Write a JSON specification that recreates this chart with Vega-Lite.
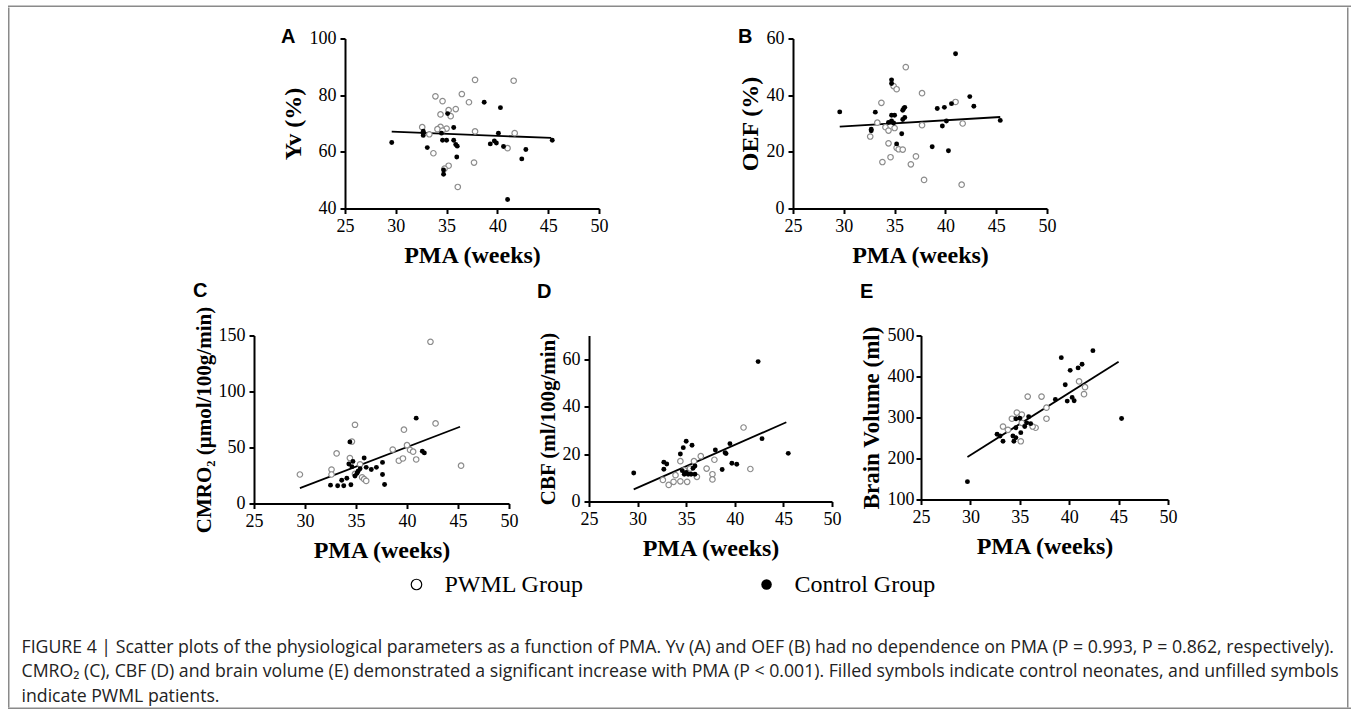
{
  "$schema": "https://vega.github.io/schema/vega-lite/v6.json",
  "background": "white",
  "padding": {"left": 8, "top": 5.5, "right": 4, "bottom": 0},
  "config": {
    "view": {"stroke": null},
    "axis": {
      "domainColor": "black", "domainWidth": 2, "tickColor": "black", "tickWidth": 2, "tickSize": 5,
      "labelFont": "Liberation Serif", "labelFontSize": 18, "labelColor": "black", "labelPadding": 4,
      "titleFont": "Liberation Serif", "titleFontSize": 24, "titleFontWeight": "bold", "titleColor": "black", "titlePadding": 4,
      "grid": false
    },
    "axisX": {"labelFlush": false, "titlePadding": 8},
    "title": {"font": "Liberation Sans", "fontSize": 20, "fontWeight": "bold", "anchor": "start", "color": "black"}
  },
  "datasets": {
    "A": [
      {"pma":37.8,"v":85.4,"g":"PWML"},{"pma":41.6,"v":85.1,"g":"PWML"},{"pma":33.9,"v":79.6,"g":"PWML"},{"pma":34.6,"v":77.9,"g":"PWML"},{"pma":36.5,"v":80.4,"g":"PWML"},{"pma":37.2,"v":77.5,"g":"PWML"},{"pma":35.9,"v":75.1,"g":"PWML"},{"pma":35.2,"v":74.7,"g":"PWML"},{"pma":34.4,"v":73.2,"g":"PWML"},{"pma":35.4,"v":72.6,"g":"PWML"},{"pma":32.6,"v":68.7,"g":"PWML"},{"pma":34.4,"v":68.8,"g":"PWML"},{"pma":34.1,"v":68.0,"g":"PWML"},{"pma":35.0,"v":68.2,"g":"PWML"},{"pma":34.6,"v":67.5,"g":"PWML"},{"pma":33.3,"v":66.2,"g":"PWML"},{"pma":37.8,"v":67.2,"g":"PWML"},{"pma":41.7,"v":66.6,"g":"PWML"},{"pma":41.0,"v":61.3,"g":"PWML"},{"pma":33.7,"v":59.5,"g":"PWML"},{"pma":37.7,"v":56.2,"g":"PWML"},{"pma":35.2,"v":55.1,"g":"PWML"},{"pma":34.8,"v":54.1,"g":"PWML"},{"pma":36.1,"v":47.6,"g":"PWML"},
      {"pma":29.6,"v":63.3,"g":"Control"},{"pma":32.7,"v":67.3,"g":"Control"},{"pma":32.7,"v":66.6,"g":"Control"},{"pma":32.7,"v":65.8,"g":"Control"},{"pma":35.1,"v":73.5,"g":"Control"},{"pma":35.7,"v":68.6,"g":"Control"},{"pma":34.5,"v":66.6,"g":"Control"},{"pma":34.6,"v":64.1,"g":"Control"},{"pma":35.0,"v":64.1,"g":"Control"},{"pma":35.7,"v":64.1,"g":"Control"},{"pma":35.9,"v":62.6,"g":"Control"},{"pma":36.05,"v":62.0,"g":"Control"},{"pma":33.1,"v":61.5,"g":"Control"},{"pma":36.0,"v":58.2,"g":"Control"},{"pma":34.7,"v":53.6,"g":"Control"},{"pma":34.7,"v":52.1,"g":"Control"},{"pma":38.7,"v":77.5,"g":"Control"},{"pma":40.3,"v":75.6,"g":"Control"},{"pma":40.1,"v":66.6,"g":"Control"},{"pma":39.3,"v":62.8,"g":"Control"},{"pma":39.7,"v":63.8,"g":"Control"},{"pma":39.9,"v":63.1,"g":"Control"},{"pma":40.6,"v":61.9,"g":"Control"},{"pma":42.8,"v":60.8,"g":"Control"},{"pma":42.4,"v":57.5,"g":"Control"},{"pma":45.4,"v":64.1,"g":"Control"},{"pma":41.0,"v":43.2,"g":"Control"}
    ],
    "A_fit": [{"pma":29.6,"v":67.1},{"pma":45.3,"v":64.9}],
    "B": [
      {"pma":29.6,"v":34.1,"g":"Control"},{"pma":33.1,"v":34.0,"g":"Control"},{"pma":32.7,"v":28.0,"g":"Control"},{"pma":32.7,"v":27.4,"g":"Control"},{"pma":34.7,"v":45.4,"g":"Control"},{"pma":34.7,"v":44.1,"g":"Control"},{"pma":34.7,"v":32.9,"g":"Control"},{"pma":35.0,"v":32.9,"g":"Control"},{"pma":34.4,"v":30.4,"g":"Control"},{"pma":34.7,"v":30.9,"g":"Control"},{"pma":34.9,"v":30.2,"g":"Control"},{"pma":35.9,"v":35.3,"g":"Control"},{"pma":36.0,"v":35.7,"g":"Control"},{"pma":35.8,"v":34.7,"g":"Control"},{"pma":36.0,"v":32.1,"g":"Control"},{"pma":35.8,"v":31.4,"g":"Control"},{"pma":35.7,"v":26.4,"g":"Control"},{"pma":35.2,"v":22.8,"g":"Control"},{"pma":38.7,"v":21.8,"g":"Control"},{"pma":39.2,"v":35.3,"g":"Control"},{"pma":39.9,"v":35.7,"g":"Control"},{"pma":39.7,"v":29.1,"g":"Control"},{"pma":40.1,"v":30.9,"g":"Control"},{"pma":40.6,"v":37.0,"g":"Control"},{"pma":41.0,"v":54.6,"g":"Control"},{"pma":42.4,"v":39.5,"g":"Control"},{"pma":42.8,"v":36.1,"g":"Control"},{"pma":40.3,"v":20.4,"g":"Control"},{"pma":45.4,"v":31.1,"g":"Control"},
      {"pma":33.7,"v":37.3,"g":"PWML"},{"pma":33.3,"v":30.3,"g":"PWML"},{"pma":32.6,"v":25.4,"g":"PWML"},{"pma":34.1,"v":28.7,"g":"PWML"},{"pma":34.4,"v":27.5,"g":"PWML"},{"pma":35.0,"v":28.4,"g":"PWML"},{"pma":34.4,"v":23.0,"g":"PWML"},{"pma":34.9,"v":43.2,"g":"PWML"},{"pma":35.2,"v":42.1,"g":"PWML"},{"pma":36.1,"v":49.9,"g":"PWML"},{"pma":37.7,"v":40.7,"g":"PWML"},{"pma":37.7,"v":29.4,"g":"PWML"},{"pma":35.2,"v":21.4,"g":"PWML"},{"pma":35.4,"v":20.9,"g":"PWML"},{"pma":35.8,"v":20.8,"g":"PWML"},{"pma":33.8,"v":16.4,"g":"PWML"},{"pma":34.6,"v":18.1,"g":"PWML"},{"pma":36.6,"v":15.6,"g":"PWML"},{"pma":37.1,"v":18.4,"g":"PWML"},{"pma":37.9,"v":10.1,"g":"PWML"},{"pma":41.0,"v":37.6,"g":"PWML"},{"pma":41.7,"v":30.0,"g":"PWML"},{"pma":41.6,"v":8.4,"g":"PWML"}
    ],
    "B_fit": [{"pma":29.6,"v":28.9},{"pma":45.4,"v":32.3}],
    "C": [
      {"pma":42.3,"v":144.4,"g":"PWML"},{"pma":34.9,"v":70.3,"g":"PWML"},{"pma":42.8,"v":71.5,"g":"PWML"},{"pma":39.7,"v":65.9,"g":"PWML"},{"pma":34.6,"v":55.3,"g":"PWML"},{"pma":33.1,"v":44.7,"g":"PWML"},{"pma":34.4,"v":40.6,"g":"PWML"},{"pma":38.6,"v":48.2,"g":"PWML"},{"pma":40.0,"v":52.1,"g":"PWML"},{"pma":40.3,"v":47.8,"g":"PWML"},{"pma":40.6,"v":46.3,"g":"PWML"},{"pma":39.2,"v":38.2,"g":"PWML"},{"pma":39.6,"v":40.2,"g":"PWML"},{"pma":40.9,"v":39.3,"g":"PWML"},{"pma":45.3,"v":33.8,"g":"PWML"},{"pma":32.6,"v":30.3,"g":"PWML"},{"pma":29.5,"v":25.9,"g":"PWML"},{"pma":32.6,"v":25.9,"g":"PWML"},{"pma":34.9,"v":26.4,"g":"PWML"},{"pma":35.4,"v":35.0,"g":"PWML"},{"pma":35.6,"v":23.4,"g":"PWML"},{"pma":35.8,"v":21.7,"g":"PWML"},{"pma":36.0,"v":20.2,"g":"PWML"},
      {"pma":40.9,"v":76.2,"g":"Control"},{"pma":34.4,"v":55.0,"g":"Control"},{"pma":35.8,"v":40.6,"g":"Control"},{"pma":34.3,"v":35.3,"g":"Control"},{"pma":34.7,"v":37.6,"g":"Control"},{"pma":34.6,"v":32.9,"g":"Control"},{"pma":35.2,"v":28.8,"g":"Control"},{"pma":35.4,"v":31.0,"g":"Control"},{"pma":35.1,"v":27.0,"g":"Control"},{"pma":34.9,"v":24.5,"g":"Control"},{"pma":36.0,"v":32.3,"g":"Control"},{"pma":36.5,"v":30.3,"g":"Control"},{"pma":37.0,"v":32.3,"g":"Control"},{"pma":37.6,"v":36.7,"g":"Control"},{"pma":37.6,"v":25.9,"g":"Control"},{"pma":34.1,"v":22.6,"g":"Control"},{"pma":33.6,"v":20.8,"g":"Control"},{"pma":32.5,"v":16.4,"g":"Control"},{"pma":33.2,"v":15.8,"g":"Control"},{"pma":33.8,"v":15.8,"g":"Control"},{"pma":34.5,"v":16.7,"g":"Control"},{"pma":37.8,"v":17.0,"g":"Control"},{"pma":41.5,"v":46.7,"g":"Control"},{"pma":41.7,"v":45.2,"g":"Control"}
    ],
    "C_fit": [{"pma":29.5,"v":13.8},{"pma":45.2,"v":68.5}],
    "D": [
      {"pma":29.6,"v":12.0,"g":"Control"},{"pma":42.4,"v":59.0,"g":"Control"},{"pma":45.5,"v":20.3,"g":"Control"},{"pma":42.8,"v":26.5,"g":"Control"},{"pma":32.7,"v":16.6,"g":"Control"},{"pma":33.0,"v":15.8,"g":"Control"},{"pma":32.7,"v":13.6,"g":"Control"},{"pma":35.0,"v":25.4,"g":"Control"},{"pma":34.7,"v":22.7,"g":"Control"},{"pma":35.6,"v":23.7,"g":"Control"},{"pma":34.4,"v":20.0,"g":"Control"},{"pma":34.6,"v":13.0,"g":"Control"},{"pma":34.8,"v":11.5,"g":"Control"},{"pma":35.0,"v":12.2,"g":"Control"},{"pma":35.2,"v":11.5,"g":"Control"},{"pma":35.5,"v":11.5,"g":"Control"},{"pma":35.9,"v":11.5,"g":"Control"},{"pma":35.9,"v":15.0,"g":"Control"},{"pma":35.7,"v":14.0,"g":"Control"},{"pma":38.0,"v":21.7,"g":"Control"},{"pma":39.0,"v":20.6,"g":"Control"},{"pma":39.1,"v":20.2,"g":"Control"},{"pma":39.5,"v":24.4,"g":"Control"},{"pma":39.7,"v":16.1,"g":"Control"},{"pma":40.2,"v":15.7,"g":"Control"},{"pma":38.7,"v":13.5,"g":"Control"},
      {"pma":40.9,"v":31.2,"g":"PWML"},{"pma":34.4,"v":17.0,"g":"PWML"},{"pma":36.5,"v":19.1,"g":"PWML"},{"pma":37.9,"v":17.6,"g":"PWML"},{"pma":37.1,"v":13.9,"g":"PWML"},{"pma":37.7,"v":11.5,"g":"PWML"},{"pma":37.7,"v":9.3,"g":"PWML"},{"pma":36.1,"v":10.4,"g":"PWML"},{"pma":35.8,"v":17.0,"g":"PWML"},{"pma":41.6,"v":13.7,"g":"PWML"},{"pma":32.6,"v":9.1,"g":"PWML"},{"pma":33.2,"v":7.0,"g":"PWML"},{"pma":33.7,"v":8.3,"g":"PWML"},{"pma":34.4,"v":8.5,"g":"PWML"},{"pma":35.1,"v":8.3,"g":"PWML"},{"pma":33.9,"v":11.1,"g":"PWML"},{"pma":34.8,"v":13.2,"g":"PWML"},{"pma":35.4,"v":13.9,"g":"PWML"}
    ],
    "D_fit": [{"pma":29.6,"v":5.1},{"pma":45.3,"v":33.4}],
    "E": [
      {"pma":29.7,"v":143.5,"g":"Control"},{"pma":45.3,"v":297.5,"g":"Control"},{"pma":39.2,"v":446,"g":"Control"},{"pma":42.4,"v":463,"g":"Control"},{"pma":41.3,"v":430,"g":"Control"},{"pma":39.6,"v":380,"g":"Control"},{"pma":40.1,"v":415,"g":"Control"},{"pma":40.9,"v":421,"g":"Control"},{"pma":39.8,"v":340,"g":"Control"},{"pma":40.3,"v":349,"g":"Control"},{"pma":40.5,"v":341,"g":"Control"},{"pma":38.6,"v":344,"g":"Control"},{"pma":35.9,"v":302,"g":"Control"},{"pma":34.6,"v":297,"g":"Control"},{"pma":35.0,"v":298,"g":"Control"},{"pma":35.7,"v":287,"g":"Control"},{"pma":36.1,"v":285,"g":"Control"},{"pma":35.5,"v":278,"g":"Control"},{"pma":34.6,"v":275,"g":"Control"},{"pma":35.1,"v":263,"g":"Control"},{"pma":34.3,"v":255,"g":"Control"},{"pma":34.6,"v":251,"g":"Control"},{"pma":33.3,"v":242,"g":"Control"},{"pma":32.7,"v":259,"g":"Control"},{"pma":33.0,"v":255,"g":"Control"},{"pma":34.4,"v":242,"g":"Control"},
      {"pma":35.8,"v":351,"g":"PWML"},{"pma":37.2,"v":351,"g":"PWML"},{"pma":37.7,"v":324,"g":"PWML"},{"pma":37.7,"v":297,"g":"PWML"},{"pma":41.0,"v":388,"g":"PWML"},{"pma":41.6,"v":374,"g":"PWML"},{"pma":41.5,"v":357,"g":"PWML"},{"pma":34.7,"v":312,"g":"PWML"},{"pma":35.2,"v":307,"g":"PWML"},{"pma":34.2,"v":297,"g":"PWML"},{"pma":33.3,"v":278,"g":"PWML"},{"pma":33.8,"v":270,"g":"PWML"},{"pma":35.2,"v":287,"g":"PWML"},{"pma":36.6,"v":275,"g":"PWML"},{"pma":36.3,"v":278,"g":"PWML"},{"pma":35.1,"v":242,"g":"PWML"}
    ],
    "E_fit": [{"pma":29.7,"v":203.7},{"pma":45.0,"v":435.8}],
    "legend": [{"g":"PWML Group"},{"g":"Control Group"}]
  },
  "spacing": 0,
  "vconcat": [
    {"width": 1343, "height": 1.5, "view": {"fill": "#8a8a8a", "stroke": null},
     "data": {"values": [{}]}, "mark": {"type": "point", "size": 0, "opacity": 0}, "encoding": {}},
    {
      "spacing": 0,
      "hconcat": [
        {"width": 1.5, "height": 700, "view": {"fill": "#8a8a8a", "stroke": null},
         "data": {"values": [{}]}, "mark": {"type": "point", "size": 0, "opacity": 0}, "encoding": {}},
        {
          "title": {
            "text": [
              "FIGURE 4 | Scatter plots of the physiological parameters as a function of PMA. Yv (A) and OEF (B) had no dependence on PMA (P = 0.993, P = 0.862, respectively).",
              "CMRO₂ (C), CBF (D) and brain volume (E) demonstrated a significant increase with PMA (P < 0.001). Filled symbols indicate control neonates, and unfilled symbols",
              "indicate PWML patients."
            ],
            "orient": "bottom", "anchor": "start", "dx": 11.5, "offset": 42,
            "font": "Open Sans", "fontSize": 17.7, "fontWeight": "normal", "lineHeight": 24.5, "color": "#222"
          },
          "spacing": 10,
          "vconcat": [
            {"width": 10, "height": 9, "data": {"values": [{}]}, "mark": {"type": "point", "size": 0, "opacity": 0}, "encoding": {}},
            {
              "spacing": 13,
              "vconcat": [
                {
                  "spacing": 130,
                  "hconcat": [
                    {"width": 140.2, "height": 10, "data": {"values": [{}]}, "mark": {"type": "text"}, "encoding": {"text": {"value": ""}}},
                    {
                      "width": 254, "height": 170,
                      "title": {"text": "A", "offset": -17},
                      "data": {"name": "A"},
                      "layer": [
                        {"data": {"name": "A_fit"}, "mark": {"type": "line", "color": "black", "strokeWidth": 1.8},
                         "encoding": {"x": {"field": "pma", "type": "quantitative"}, "y": {"field": "v", "type": "quantitative"}}},
                        {"transform": [{"filter": "datum.g == 'PWML'"}],
                         "mark": {"type": "point", "shape": "circle", "size": 30, "filled": false, "color": "#8c8c8c", "fill": "white", "strokeWidth": 1.2, "opacity": 1},
                         "encoding": {
                           "x": {"field": "pma", "type": "quantitative", "scale": {"domain": [25, 50], "nice": false, "zero": false}, "axis": {"values": [25, 30, 35, 40, 45, 50], "title": "PMA (weeks)"}},
                           "y": {"field": "v", "type": "quantitative", "scale": {"domain": [40, 100], "nice": false, "zero": false}, "axis": {"values": [40, 60, 80, 100], "title": "Yv (%)"}}
                         }},
                        {"transform": [{"filter": "datum.g == 'Control'"}],
                         "mark": {"type": "point", "shape": "circle", "size": 24, "filled": true, "color": "black", "opacity": 1},
                         "encoding": {"x": {"field": "pma", "type": "quantitative"}, "y": {"field": "v", "type": "quantitative"}}}
                      ]
                    },
                    {
                      "width": 254, "height": 170,
                      "title": {"text": "B", "offset": -17},
                      "data": {"name": "B"},
                      "layer": [
                        {"data": {"name": "B_fit"}, "mark": {"type": "line", "color": "black", "strokeWidth": 1.8},
                         "encoding": {"x": {"field": "pma", "type": "quantitative"}, "y": {"field": "v", "type": "quantitative"}}},
                        {"transform": [{"filter": "datum.g == 'PWML'"}],
                         "mark": {"type": "point", "shape": "circle", "size": 30, "filled": false, "color": "#8c8c8c", "fill": "white", "strokeWidth": 1.2, "opacity": 1},
                         "encoding": {
                           "x": {"field": "pma", "type": "quantitative", "scale": {"domain": [25, 50], "nice": false, "zero": false}, "axis": {"values": [25, 30, 35, 40, 45, 50], "title": "PMA (weeks)"}},
                           "y": {"field": "v", "type": "quantitative", "scale": {"domain": [0, 60], "nice": false, "zero": false}, "axis": {"values": [0, 20, 40, 60], "title": "OEF (%)"}}
                         }},
                        {"transform": [{"filter": "datum.g == 'Control'"}],
                         "mark": {"type": "point", "shape": "circle", "size": 24, "filled": true, "color": "black", "opacity": 1},
                         "encoding": {"x": {"field": "pma", "type": "quantitative"}, "y": {"field": "v", "type": "quantitative"}}}
                      ]
                    }
                  ]
                },
                {
                  "spacing": 18,
                  "hconcat": [
                    {"width": 163.2, "height": 10, "data": {"values": [{}]}, "mark": {"type": "text"}, "encoding": {"text": {"value": ""}}},
                    {
                      "width": 255, "height": 168,
                      "title": {"text": "C", "offset": 5},
                      "data": {"name": "C"},
                      "layer": [
                        {"data": {"name": "C_fit"}, "mark": {"type": "line", "color": "black", "strokeWidth": 1.8},
                         "encoding": {"x": {"field": "pma", "type": "quantitative"}, "y": {"field": "v", "type": "quantitative"}}},
                        {"transform": [{"filter": "datum.g == 'PWML'"}],
                         "mark": {"type": "point", "shape": "circle", "size": 30, "filled": false, "color": "#8c8c8c", "fill": "white", "strokeWidth": 1.2, "opacity": 1},
                         "encoding": {
                           "x": {"field": "pma", "type": "quantitative", "scale": {"domain": [25, 50], "nice": false, "zero": false}, "axis": {"values": [25, 30, 35, 40, 45, 50], "title": "PMA (weeks)"}},
                           "y": {"field": "v", "type": "quantitative", "scale": {"domain": [0, 150], "nice": false, "zero": false}, "axis": {"values": [0, 50, 100, 150], "title": "CMRO₂ (μmol/100g/min)", "titleFontSize": 21}}
                         }},
                        {"transform": [{"filter": "datum.g == 'Control'"}],
                         "mark": {"type": "point", "shape": "circle", "size": 24, "filled": true, "color": "black", "opacity": 1},
                         "encoding": {"x": {"field": "pma", "type": "quantitative"}, "y": {"field": "v", "type": "quantitative"}}}
                      ]
                    },
                    {
                      "width": 243, "height": 166,
                      "title": {"text": "D", "offset": 30},
                      "data": {"name": "D"},
                      "layer": [
                        {"data": {"name": "D_fit"}, "mark": {"type": "line", "color": "black", "strokeWidth": 1.8},
                         "encoding": {"x": {"field": "pma", "type": "quantitative"}, "y": {"field": "v", "type": "quantitative"}}},
                        {"transform": [{"filter": "datum.g == 'PWML'"}],
                         "mark": {"type": "point", "shape": "circle", "size": 30, "filled": false, "color": "#8c8c8c", "fill": "white", "strokeWidth": 1.2, "opacity": 1},
                         "encoding": {
                           "x": {"field": "pma", "type": "quantitative", "scale": {"domain": [25, 50], "nice": false, "zero": false}, "axis": {"values": [25, 30, 35, 40, 45, 50], "title": "PMA (weeks)"}},
                           "y": {"field": "v", "type": "quantitative", "scale": {"domain": [0, 70], "nice": false, "zero": false}, "axis": {"values": [0, 20, 40, 60], "title": "CBF (ml/100g/min)", "titleFontSize": 21}}
                         }},
                        {"transform": [{"filter": "datum.g == 'Control'"}],
                         "mark": {"type": "point", "shape": "circle", "size": 24, "filled": true, "color": "black", "opacity": 1},
                         "encoding": {"x": {"field": "pma", "type": "quantitative"}, "y": {"field": "v", "type": "quantitative"}}}
                      ]
                    },
                    {
                      "width": 247, "height": 164,
                      "title": {"text": "E", "offset": 24},
                      "data": {"name": "E"},
                      "layer": [
                        {"data": {"name": "E_fit"}, "mark": {"type": "line", "color": "black", "strokeWidth": 1.8},
                         "encoding": {"x": {"field": "pma", "type": "quantitative"}, "y": {"field": "v", "type": "quantitative"}}},
                        {"transform": [{"filter": "datum.g == 'PWML'"}],
                         "mark": {"type": "point", "shape": "circle", "size": 30, "filled": false, "color": "#8c8c8c", "fill": "white", "strokeWidth": 1.2, "opacity": 1},
                         "encoding": {
                           "x": {"field": "pma", "type": "quantitative", "scale": {"domain": [25, 50], "nice": false, "zero": false}, "axis": {"values": [25, 30, 35, 40, 45, 50], "title": "PMA (weeks)"}},
                           "y": {"field": "v", "type": "quantitative", "scale": {"domain": [100, 500], "nice": false, "zero": false}, "axis": {"values": [100, 200, 300, 400, 500], "title": "Brain Volume (ml)", "titleFontSize": 23, "labelPadding": 2}}
                         }},
                        {"transform": [{"filter": "datum.g == 'Control'"}],
                         "mark": {"type": "point", "shape": "circle", "size": 24, "filled": true, "color": "black", "opacity": 1},
                         "encoding": {"x": {"field": "pma", "type": "quantitative"}, "y": {"field": "v", "type": "quantitative"}}}
                      ]
                    }
                  ]
                }
              ]
            },
            {
              "width": 1336.5, "height": 24,
              "data": {"name": "legend"},
              "layer": [
                {"transform": [{"filter": "datum.g == 'PWML Group'"}],
                 "mark": {"type": "point", "shape": "circle", "size": 110, "filled": false, "color": "black", "fill": "white", "strokeWidth": 1.2, "opacity": 1},
                 "encoding": {"x": {"field": "g", "type": "nominal", "scale": {"type": "band", "domain": ["PWML Group", "Control Group"], "paddingInner": 0, "paddingOuter": 0.909, "align": 0.3637}, "axis": null}}},
                {"transform": [{"filter": "datum.g == 'Control Group'"}],
                 "mark": {"type": "point", "shape": "circle", "size": 110, "filled": true, "color": "black", "opacity": 1},
                 "encoding": {"x": {"field": "g", "type": "nominal"}}},
                {"mark": {"type": "text", "align": "left", "dx": 28, "font": "Liberation Serif", "fontSize": 24, "color": "black"},
                 "encoding": {"x": {"field": "g", "type": "nominal"}, "text": {"field": "g"}}}
              ]
            }
          ]
        },
        {"width": 1.5, "height": 700, "view": {"fill": "#8a8a8a", "stroke": null},
         "data": {"values": [{}]}, "mark": {"type": "point", "size": 0, "opacity": 0}, "encoding": {}}
      ]
    },
    {"width": 1343, "height": 1.5, "view": {"fill": "#8a8a8a", "stroke": null},
     "data": {"values": [{}]}, "mark": {"type": "point", "size": 0, "opacity": 0}, "encoding": {}}
  ]
}
